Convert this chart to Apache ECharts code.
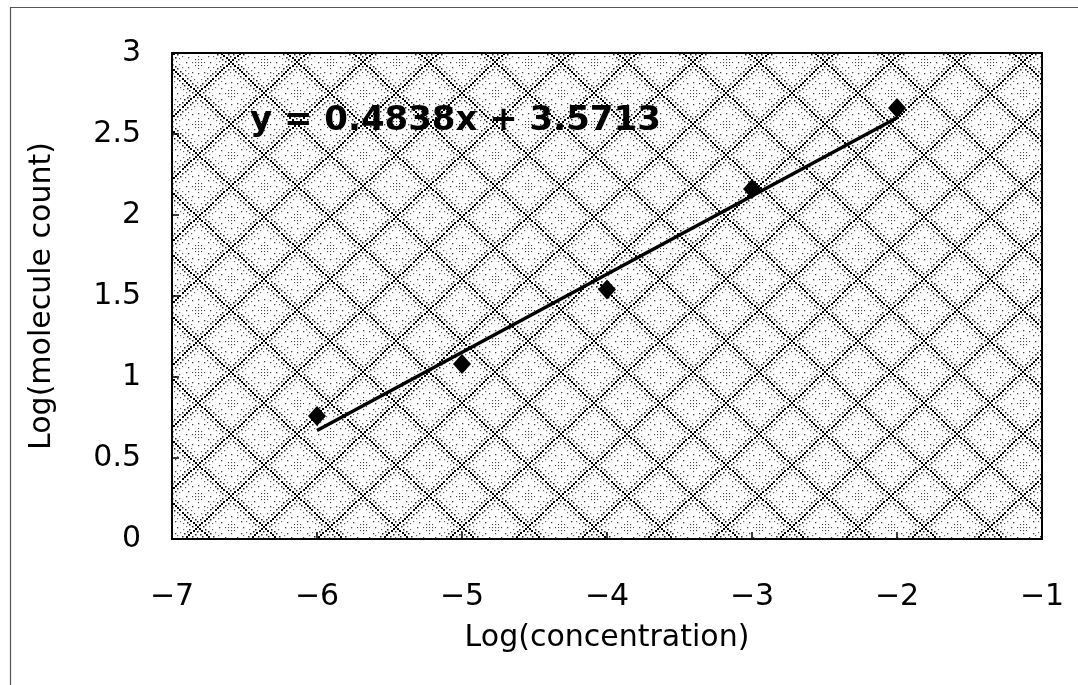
<!DOCTYPE html>
<html>
<head>
<meta charset="utf-8">
<script src="https://cdn.jsdelivr.net/npm/echarts@6/dist/echarts.min.js"></script>
<style>
  html, body { margin: 0; padding: 0; background: #fff; }
  #chart { width: 1078px; height: 685px; }
</style>
</head>
<body>
<div id="chart"></div>
<script>
const logConc = [-6, -5, -4, -3, -2];
const logCount = [0.76, 1.08, 1.54, 2.16, 2.66];
// fitted line endpoints, as drawn
const fitX = [-6, -2];
const fitY = [0.67, 2.60];
const fitLabel = "y = 0.4838x + 3.5713";

// dithered diamond texture like the old Excel plot fill
function makePattern() {
  const w = 66, h = 62;
  const c = document.createElement("canvas");
  c.width = w;
  c.height = h;
  const g = c.getContext("2d");
  g.fillStyle = "#fff";
  g.fillRect(0, 0, w, h);
  const centres = [[w / 2, h / 2], [0, 0], [w, 0], [0, h], [w, h]];

  // dotted diamond outline, dots placed one by one so both diagonals look alike
  function diamond(cx, cy, f, step, size, col) {
    g.fillStyle = col;
    const pts = [
      [cx, cy - (h / 2) * f],
      [cx + (w / 2) * f, cy],
      [cx, cy + (h / 2) * f],
      [cx - (w / 2) * f, cy],
    ];
    for (let k = 0; k < 4; k++) {
      const [x0, y0] = pts[k];
      const [x1, y1] = pts[(k + 1) % 4];
      const len = Math.hypot(x1 - x0, y1 - y0);
      const n = Math.round(len / step);
      for (let i = 0; i < n; i++) {
        const t = i / n;
        g.fillRect(Math.round(x0 + (x1 - x0) * t - size / 2), Math.round(y0 + (y1 - y0) * t - size / 2), size, size);
      }
    }
  }

  centres.forEach(([x, y]) => {
    diamond(x, y, 1, 3, 2, "#000");
    diamond(x, y, 0.84, 3.5, 1.5, "#222");
    diamond(x, y, 0.66, 4, 1.2, "#666");
  });

  // dotted rings and spots inside each cell
  g.fillStyle = "#444";
  centres.forEach(([cx, cy]) => {
    for (let a = 0; a < 360; a += 30) {
      const r = a * Math.PI / 180;
      g.fillRect(Math.round(cx + 12 * Math.cos(r)), Math.round(cy + 11 * Math.sin(r)), 1.3, 1.3);
    }
    for (let dx = -6; dx <= 6; dx += 3) {
      for (let dy = -6; dy <= 6; dy += 3) {
        if (dx * dx + dy * dy <= 40) {
          g.fillRect(cx + dx, cy + dy, 1.1, 1.1);
        }
      }
    }
  });
  return c;
}

const chart = echarts.init(document.getElementById("chart"));
const labelFont = { fontFamily: "DejaVu Sans", fontSize: 30, color: "#000" };

chart.setOption({
  animation: false,
  backgroundColor: "#fff",
  grid: {
    left: 172,
    right: 36,
    top: 53,
    bottom: 146,
    show: true,
    borderColor: "#000",
    borderWidth: 2,
    backgroundColor: { image: makePattern(), repeat: "repeat" },
  },
  xAxis: {
    type: "value",
    min: -7,
    max: -1,
    interval: 1,
    name: "Log(concentration)",
    nameLocation: "middle",
    nameGap: 84,
    nameTextStyle: labelFont,
    axisLine: { show: true, onZero: false, lineStyle: { color: "#000", width: 2 } },
    axisTick: { show: true, inside: true, length: 7, lineStyle: { color: "#000", width: 1.5 } },
    axisLabel: {
      ...labelFont,
      margin: 43,
      formatter: (v) => (v < 0 ? "\u2212" + Math.abs(v) : String(v)),
    },
    splitLine: { show: false },
  },
  yAxis: {
    type: "value",
    min: 0,
    max: 3,
    interval: 0.5,
    name: "Log(molecule count)",
    nameLocation: "middle",
    nameGap: 115,
    nameTextStyle: labelFont,
    axisLine: { show: true, onZero: false, lineStyle: { color: "#000", width: 2 } },
    axisTick: { show: true, inside: true, length: 7, lineStyle: { color: "#000", width: 1.5 } },
    axisLabel: { ...labelFont, margin: 31 },
    splitLine: { show: false },
  },
  graphic: [
    {
      type: "rect",
      left: 8,
      top: 5,
      shape: { width: 1100, height: 700 },
      style: { fill: "none", stroke: "#555", lineWidth: 1.2 },
      silent: true,
    },
    {
      type: "text",
      left: 250,
      top: 104,
      z: 10,
      style: {
        text: fitLabel,
        font: "bold 34px 'DejaVu Sans'",
        fill: "#000",
      },
    },
  ],
  series: [
    {
      type: "line",
      data: fitX.map((x, i) => [x, fitY[i]]),
      showSymbol: false,
      lineStyle: { color: "#000", width: 3.5 },
      z: 3,
    },
    {
      type: "scatter",
      data: logConc.map((x, i) => [x, logCount[i]]),
      symbol: "diamond",
      symbolSize: [18, 20],
      itemStyle: { color: "#000", opacity: 1 },
      z: 4,
    },
  ],
});
</script>
</body>
</html>
